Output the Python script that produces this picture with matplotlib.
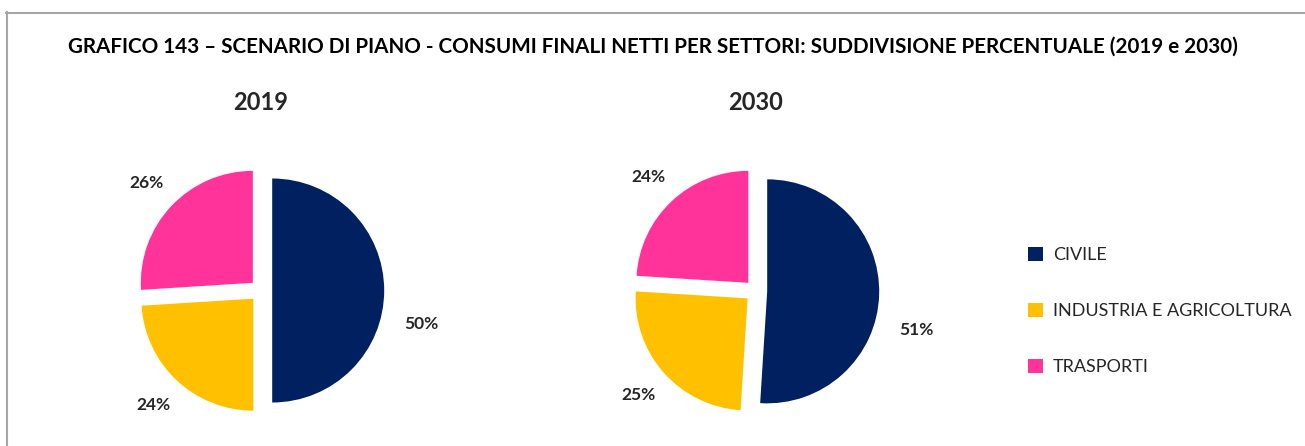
import matplotlib
matplotlib.use("Agg")
import matplotlib.pyplot as plt
from matplotlib.lines import Line2D

# dati
settori = ["CIVILE", "INDUSTRIA E AGRICOLTURA", "TRASPORTI"]
anni = ["2019", "2030"]
valori_2019 = [50, 24, 26]
valori_2030 = [51, 25, 24]
colori = ["#002060", "#FFC000", "#FF3399"]
titolo = "GRAFICO 143 – SCENARIO DI PIANO - CONSUMI FINALI NETTI PER SETTORI: SUDDIVISIONE PERCENTUALE (2019 e 2030)"

W, H = 1305, 446
fig = plt.figure(figsize=(W / 100, H / 100), dpi=100)
fig.patch.set_facecolor("white")

font_txt = ["Lato", "DejaVu Sans"]

# cornice grigia
fig.add_artist(Line2D([6 / W, 1], [1 - 12.5 / H, 1 - 12.5 / H], color="#a6a6a6", lw=1.5))
fig.add_artist(Line2D([6.5 / W, 6.5 / W], [0, 1 - 12 / H], color="#a6a6a6", lw=1.5))

fig.text(653 / W, 1 - 47 / H, titolo, ha="center", va="center",
         fontsize=14.9, fontweight="bold", family=font_txt, color="black")

# posizione pixel dei centri delle torte
centri = [(261, 290.5), (756, 291)]
raggio = 112
meta = 150

wedges_leg = None
for anno, valori, (cx, cy) in zip(anni, [valori_2019, valori_2030], centri):
    ax = fig.add_axes([(cx - meta) / W, (H - cy - meta) / H, 2 * meta / W, 2 * meta / H])
    lim = meta / raggio
    wedges, texts, autotexts = ax.pie(valori, colors=colori, startangle=90, counterclock=False,
                                      explode=[0.1, 0.1, 0.1], autopct="%d%%", pctdistance=1.3,
                                      wedgeprops=dict(linewidth=0),
                                      textprops=dict(fontsize=12.5, fontweight="bold", color="#262626",
                                                     family=font_txt))
    # etichetta CIVILE un po' piu in basso, come nell'originale
    px, py = autotexts[0].get_position()
    autotexts[0].set_position((px + 0.03, py - 0.3))
    ax.set_xlim(-lim, lim)
    ax.set_ylim(-lim, lim)
    ax.set_aspect("auto")
    ax.axis("off")
    fig.text(cx / W, 1 - 103 / H, anno, ha="center", va="center", fontsize=17,
             fontweight="bold", family=font_txt, color="#262626")
    wedges_leg = wedges

leg = fig.legend(wedges_leg, settori, loc="upper left", bbox_to_anchor=(1012 / W, 1 - 231 / H),
                 frameon=False, handlelength=0.8, handleheight=0.8, handletextpad=0.55,
                 labelspacing=2.2, prop=dict(family=font_txt, size=13))
for t in leg.get_texts():
    t.set_color("#262626")

fig.savefig("out.png", dpi=100)
